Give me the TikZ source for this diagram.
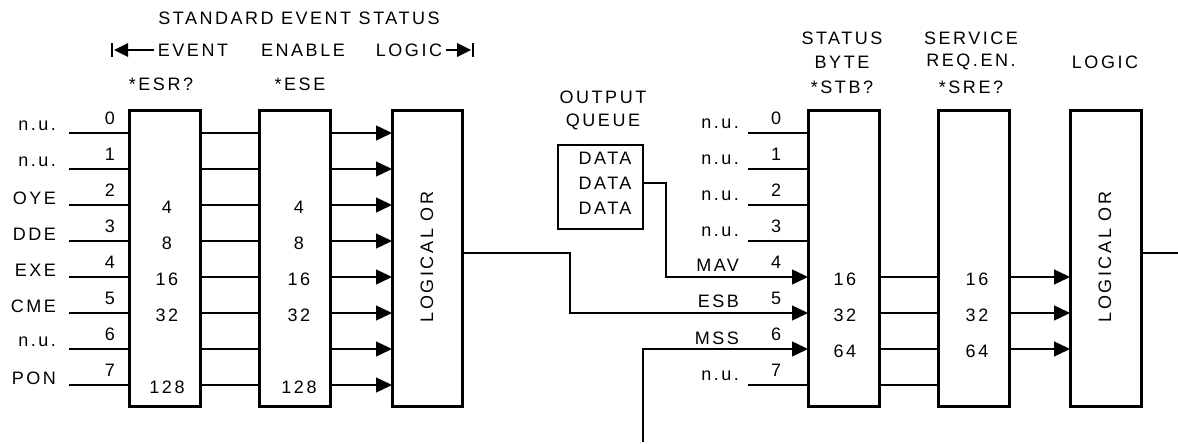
\documentclass[tikz,border=0pt]{standalone}
\usepackage{fontspec}
\setmainfont{Liberation Sans}
\newfontfamily\diagfont{Liberation Sans}[LetterSpace=14]
\usetikzlibrary{arrows.meta}
\begin{document}
\begin{tikzpicture}[x=1pt,y=-1pt,
  txt/.style={font=\diagfont\fontsize{18}{20}\selectfont, inner sep=0pt, outer sep=0pt},
  regbox/.style={draw, line width=3pt, inner sep=0pt, outer sep=0pt, anchor=north west, minimum width=71pt, minimum height=296pt},
  thinbox/.style={draw, line width=1.3pt, inner sep=0pt, outer sep=0pt, anchor=north west},
  wire/.style={line width=1.3pt},
  arr/.style={wire, -{Triangle[length=16pt,width=15pt]}}]
\useasboundingbox (0,0) rectangle (1178,444);

% row coordinates
\foreach \k in {0,...,7}{ \coordinate (row\k) at (0,133+36*\k); }
\coordinate (y253) at (0,253);

% boxes
\node[regbox] (esr) at (129,110) {};
\node[regbox] (ese) at (259,110) {};
\node[regbox, minimum width=70pt] (lor1) at (392,110) {};
\node[regbox] (stb) at (808,110) {};
\node[regbox] (sre) at (938,110) {};
\node[regbox, minimum width=71pt] (lor2) at (1070,110) {};
\node[txt, rotate=90] (lor1t) at (427,257) {LOGICAL OR};
\node[txt, rotate=90] (lor2t) at (1105,257) {LOGICAL OR};

% headers left
\node[txt] (hdr1) at (299,18) {STANDARD EVENT STATUS};
\node[txt] (hdrEv) at (193,50) {EVENT};
\node[txt] (hdrEn) at (303,50) {ENABLE};
\node[txt] (hdrLo) at (409,50) {LOGIC};
\coordinate (hdrL) at (112,50);
\coordinate (hdrR) at (473,50);
\draw[wire] ([yshift=-7pt]hdrL) -- ([yshift=7pt]hdrL);
\fill ([xshift=2pt]hdrL) -- ([xshift=16pt,yshift=-7pt]hdrL) -- ([xshift=16pt,yshift=7pt]hdrL) -- cycle;
\draw[wire] ([xshift=16pt]hdrL) -- ([xshift=-4pt]hdrEv.west);
\draw[wire] ([yshift=-7pt]hdrR) -- ([yshift=7pt]hdrR);
\fill ([xshift=-2pt]hdrR) -- ([xshift=-16pt,yshift=-7pt]hdrR) -- ([xshift=-16pt,yshift=7pt]hdrR) -- cycle;
\draw[wire] ([xshift=-16pt]hdrR) -- ([xshift=4pt]hdrLo.east);
\node[txt] (hEsr) at (161,84) {*ESR?};
\node[txt] (hEse) at (300,84) {*ESE};

% headers right
\node[txt] (oq1) at (603,97) {OUTPUT};
\node[txt] (oq2) at (603,122) {QUEUE};
\node[txt] (sb1) at (842,38) {STATUS};
\node[txt] (sb2) at (842,62) {BYTE};
\node[txt] (sb3) at (842,87) {*STB?};
\node[txt] (sr1) at (971,38) {SERVICE};
\node[txt] (sr2) at (971,62) {REQ.EN.};
\node[txt] (sr3) at (971,87) {*SRE?};
\node[txt] (lg) at (1105,62) {LOGIC};

% left inputs
\foreach \k/\lab in {0/n.u.,1/n.u.,2/OYE,3/DDE,4/EXE,5/CME,6/n.u.,7/PON}{
  \coordinate (inL\k) at (69,133+36*\k);
  \node[txt, anchor=east] (labL\k) at (56,126+36*\k) {\lab};
  \node[txt] (bitL\k) at (110,118+36*\k) {\k};
  \draw[wire] (inL\k) -- (esr.west |- row\k);
  \draw[wire] (esr.east |- row\k) -- (ese.west |- row\k);
  \draw[arr] (ese.east |- row\k) -- (lor1.west |- row\k);
}
\foreach \k/\w in {2/4,3/8,4/16,5/32,7/128}{
  \node[txt] (esrw\k) at (167,135+36*\k) {\w};
  \node[txt] (esew\k) at (299,135+36*\k) {\w};
}

% output queue
\node[thinbox, minimum width=85pt, minimum height=84pt] (dataq) at (558,145) {};
\node[txt] (data1) at (605,158) {DATA};
\node[txt] (data2) at (605,183) {DATA};
\node[txt] (data3) at (605,208) {DATA};

% right inputs
\foreach \k in {0,...,7}{
  \node[txt] (bitR\k) at (776,118+36*\k) {\k};
}
\foreach \k in {0,1,2,3,7}{
  \coordinate (inR\k) at (748,133+36*\k);
  \node[txt, anchor=east] (labR\k) at (739,124+36*\k) {n.u.};
  \draw[wire] (inR\k) -- (stb.west |- row\k);
}
\node[txt, anchor=east] (mav) at (739,265) {MAV};
\node[txt, anchor=east] (esb) at (739,301) {ESB};
\node[txt, anchor=east] (mss) at (739,338) {MSS};

\coordinate (mavbend) at (666,277);
\coordinate (esbbend) at (570,313);
\coordinate (mssfoot) at (643,442);
\draw[arr] (dataq.east |- data2) -| (mavbend) -- (stb.west |- row4);
\draw[arr] (lor1.east |- y253) -| (esbbend) -- (stb.west |- row5);
\draw[arr] (mssfoot) |- (stb.west |- row6);

\foreach \k in {4,5,6,7}{
  \draw[wire] (stb.east |- row\k) -- (sre.west |- row\k);
}
\foreach \k in {4,5,6}{
  \draw[arr] (sre.east |- row\k) -- (lor2.west |- row\k);
}
\foreach \k/\w in {4/16,5/32,6/64}{
  \node[txt] (stbw\k) at (845,135+36*\k) {\w};
  \node[txt] (srew\k) at (977,135+36*\k) {\w};
}
\coordinate (outR) at (1178,253);
\draw[wire] (lor2.east |- outR) -- (outR);
\end{tikzpicture}
\end{document}
